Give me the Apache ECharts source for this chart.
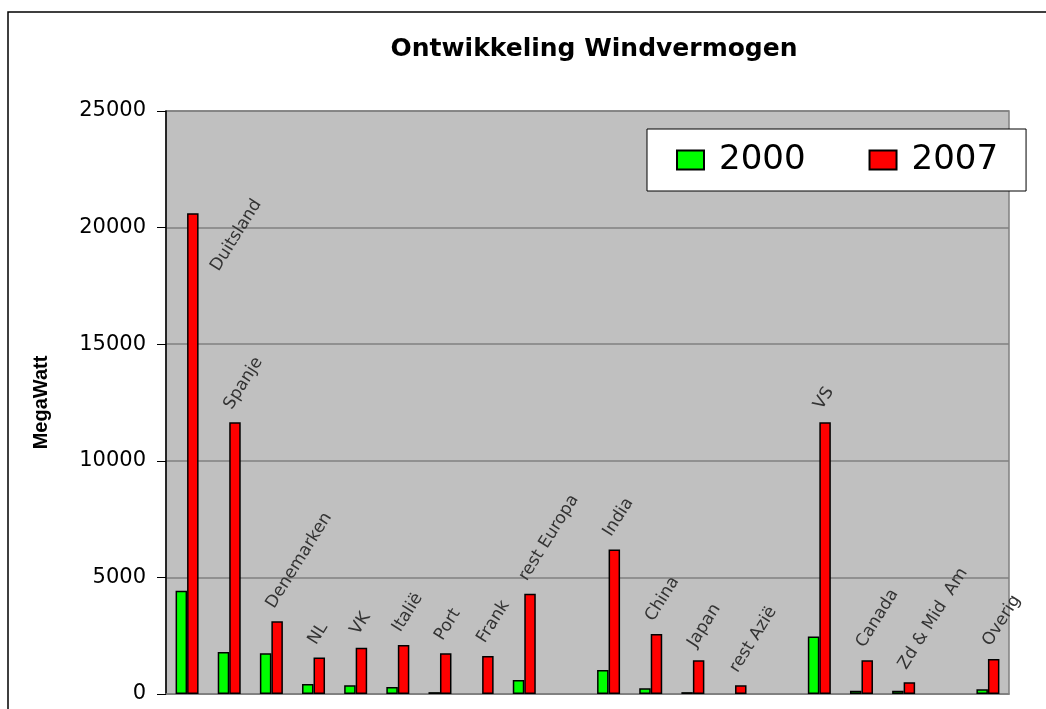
<!DOCTYPE html>
<html>
<head>
<meta charset="utf-8">
<style>
html, body { margin: 0; padding: 0; background: #fff; }
#chart { width: 1046px; height: 709px; }
</style>
<script src="https://cdn.jsdelivr.net/npm/echarts@6/dist/echarts.min.js"></script>
</head>
<body>
<div id="chart"></div>
<script>
// data (empty names are the gaps between regions)
var categories = ['Duitsland', 'Spanje', 'Denemarken', 'NL', 'VK', 'Italië', 'Port', 'Frank', 'rest Europa', '',
    'India', 'China', 'Japan', 'rest Azië', '', 'VS', 'Canada', 'Zd & Mid  Am', '', 'Overig'];
var values2000 = [4430, 1800, 1745, 430, 370, 300, 80, null, 600, null,
    1030, 245, 80, null, null, 2470, 140, 140, null, 200];
var values2007 = [20620, 11650, 3115, 1560, 1985, 2100, 1745, 1630, 4300, null,
    6200, 2570, 1445, 370, null, 11650, 1445, 500, null, 1500];
var yTicks = [0, 5000, 10000, 15000, 20000, 25000];

var chart = echarts.init(document.getElementById('chart'));

var barBorder = { borderColor: '#000', borderWidth: 1.5 };

var data2007 = values2007.map(function (v, i) {
    if (i === 0) {
        // Duitsland's label sits beside its bar, not above it
        return { value: v, label: { position: [35, 61] } };
    }
    return v;
});

var option = {
    backgroundColor: '#fff',
    animation: false,
    title: {
        text: 'Ontwikkeling Windvermogen',
        left: 589,
        top: 32,
        textAlign: 'center',
        textStyle: {
            fontFamily: 'DejaVu Sans',
            fontWeight: 'bold',
            fontSize: 25,
            color: '#000'
        }
    },
    legend: {
        left: 647,
        top: 129,
        orient: 'horizontal',
        padding: [14, 28, 14, 29],
        itemGap: 63,
        itemWidth: 27,
        itemHeight: 19,
        icon: 'rect',
        backgroundColor: '#fff',
        borderColor: '#000',
        borderWidth: 1,
        textStyle: {
            fontFamily: 'DejaVu Sans',
            fontSize: 34,
            color: '#000',
            padding: [0, 0, 0, 10]
        },
        data: ['2000', '2007']
    },
    graphic: [{
        type: 'rect',
        shape: { x: 8, y: 12, width: 1200, height: 900 },
        style: { fill: 'none', stroke: '#000', lineWidth: 1.5 },
        silent: true
    }],
    grid: {
        left: 166,
        top: 111,
        right: 37,
        bottom: 15,
        show: true,
        backgroundColor: '#C0C0C0',
        borderColor: '#808080',
        borderWidth: 1.5
    },
    xAxis: {
        type: 'category',
        data: categories,
        axisLine: { show: true, lineStyle: { color: '#808080', width: 1.5 } },
        axisTick: { show: false },
        axisLabel: { show: false },
        splitLine: { show: false }
    },
    yAxis: {
        type: 'value',
        min: yTicks[0],
        max: yTicks[yTicks.length - 1],
        interval: 5000,
        name: 'MegaWatt',
        nameLocation: 'middle',
        nameRotate: 90,
        nameGap: 115,
        nameTextStyle: {
            fontFamily: "'Liberation Sans Narrow', 'Liberation Sans'",
            fontWeight: 'bold',
            fontSize: 20,
            color: '#000'
        },
        axisLine: { show: true, lineStyle: { color: '#000', width: 1.5 } },
        axisTick: { show: true, inside: false, length: 9, lineStyle: { color: '#000', width: 1 } },
        axisLabel: {
            margin: 20,
            fontFamily: 'DejaVu Sans',
            fontSize: 21,
            color: '#000',
            formatter: function (v) { return String(v); }
        },
        splitLine: { show: true, lineStyle: { color: '#808080', width: 1.5 } }
    },
    series: [{
        name: '2000',
        type: 'bar',
        data: values2000,
        barWidth: 11.5,
        barGap: '0%',
        itemStyle: Object.assign({ color: '#00FF00' }, barBorder)
    }, {
        name: '2007',
        type: 'bar',
        data: data2007,
        barWidth: 11.5,
        barGap: '0%',
        itemStyle: Object.assign({ color: '#FF0000' }, barBorder),
        label: {
            show: true,
            formatter: '{b}',
            position: [6, -10],
            rotate: 58,
            align: 'left',
            verticalAlign: 'bottom',
            fontFamily: 'DejaVu Sans',
            fontSize: 17,
            color: '#333'
        }
    }]
};

chart.setOption(option);
</script>
</body>
</html>
